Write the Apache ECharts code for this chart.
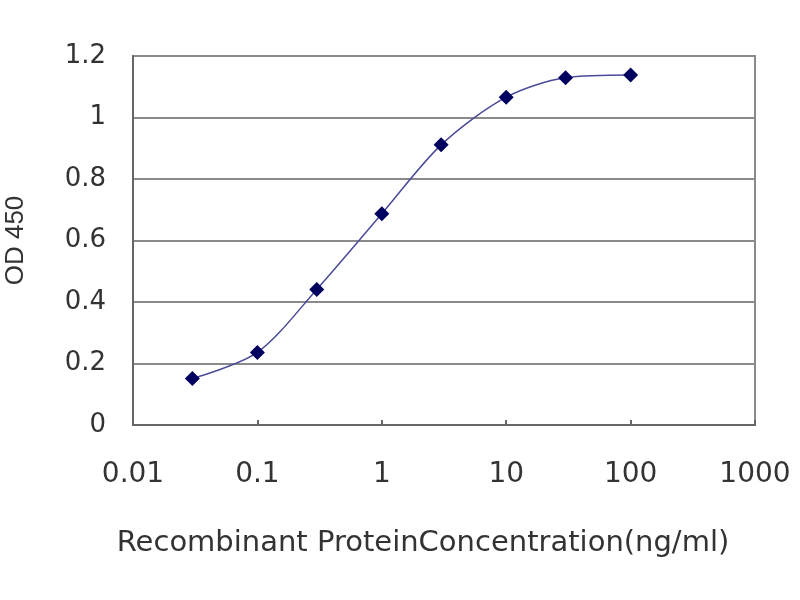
<!DOCTYPE html>
<html>
<head>
<meta charset="utf-8">
<script src="https://cdn.jsdelivr.net/npm/echarts@6/dist/echarts.min.js"></script>
<style>
html,body{margin:0;padding:0;background:#fff;}
#c{width:800px;height:600px;}
</style>
</head>
<body>
<div id="c"></div>
<script>
// Data
var concentrations = [0.03, 0.1, 0.3, 1, 3, 10, 30, 100];
var od450 = [0.151, 0.236, 0.441, 0.687, 0.911, 1.066, 1.129, 1.138];
var xTickLabels = ['0.01', '0.1', '1', '10', '100', '1000'];
var yTickLabels = ['0', '0.2', '0.4', '0.6', '0.8', '1', '1.2'];

var seriesData = concentrations.map(function (c, i) { return [c, od450[i]]; });

var chart = echarts.init(document.getElementById('c'));
chart.setOption({
  backgroundColor: '#ffffff',
  animation: false,
  grid: {
    left: 133, right: 45, top: 56, bottom: 175,
    containLabel: false,
    outerBoundsMode: 'none',
    show: true, borderColor: '#8a8a8a', borderWidth: 2, backgroundColor: 'transparent'
  },
  xAxis: {
    type: 'log',
    logBase: 10,
    min: 0.01,
    max: 1000,
    name: 'Recombinant ProteinConcentration(ng/ml)',
    nameLocation: 'middle',
    nameGap: 104,
    nameTextStyle: { fontFamily: 'DejaVu Sans, sans-serif', fontSize: 29, color: '#333', padding: [0, 42, 0, 0] },
    axisLine: { show: true, lineStyle: { color: '#666', width: 2 } },
    axisTick: { show: true, inside: true, length: 5, lineStyle: { color: '#666', width: 2 } },
    splitLine: { show: false },
    minorTick: { show: false },
    axisLabel: {
      margin: 36,
      fontFamily: 'DejaVu Sans, sans-serif',
      fontSize: 28,
      color: '#333',
      formatter: function (v) {
        var e = Math.round(Math.log10(v)) + 2;
        return xTickLabels[e] !== undefined ? xTickLabels[e] : String(v);
      }
    }
  },
  yAxis: {
    type: 'value',
    min: 0,
    max: 1.2,
    interval: 0.2,
    name: 'OD 450',
    nameLocation: 'middle',
    nameGap: 104,
    nameRotate: 90,
    nameTextStyle: { fontFamily: 'Liberation Sans, Arial, sans-serif', fontSize: 26, color: '#333', align: 'center' },
    axisLine: { show: true, lineStyle: { color: '#666', width: 2 } },
    axisTick: { show: false },
    splitLine: { show: true, lineStyle: { color: '#8a8a8a', width: 2 } },
    axisLabel: {
      margin: 27,
      fontFamily: 'DejaVu Sans, sans-serif',
      fontSize: 26,
      color: '#333',
      formatter: function (v) {
        var i = Math.round(v / 0.2);
        return yTickLabels[i] !== undefined ? yTickLabels[i] : String(v);
      }
    }
  },
  series: [{
    type: 'line',
    data: seriesData,
    smooth: 0.3,
    symbol: 'diamond',
    symbolSize: 15,
    itemStyle: { color: '#00005e' },
    lineStyle: { color: '#4a4a9a', width: 1.5 }
  }]
});
</script>
</body>
</html>
